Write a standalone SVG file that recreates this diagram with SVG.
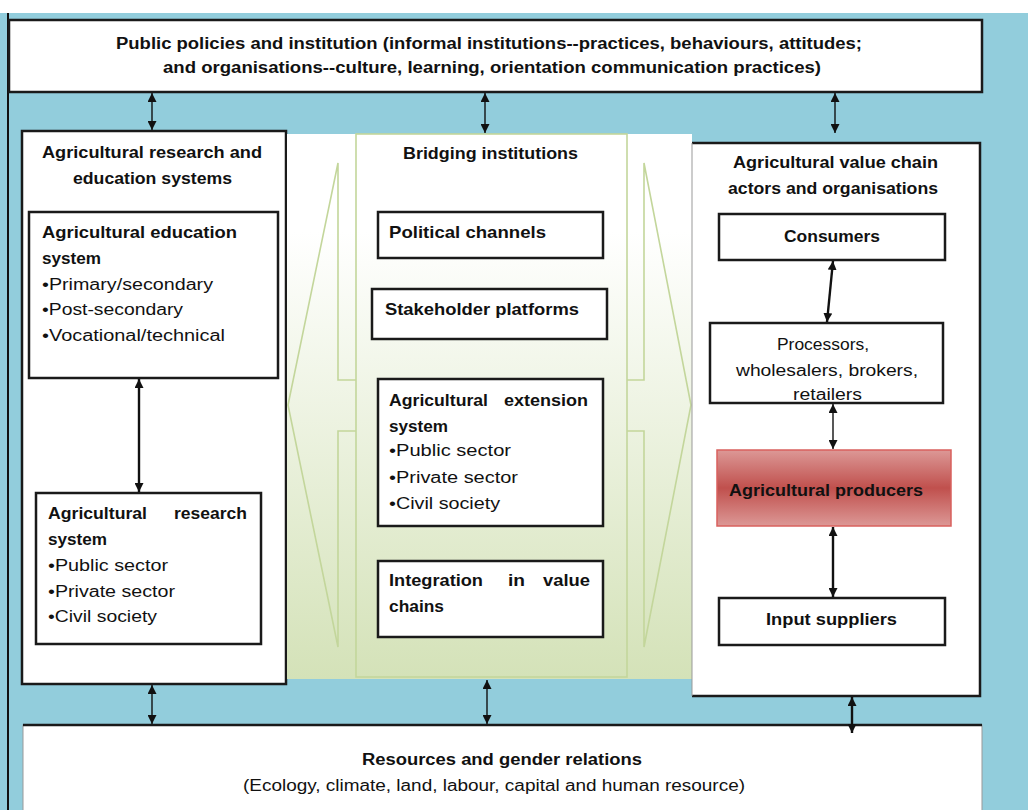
<svg xmlns="http://www.w3.org/2000/svg" width="1028" height="810" viewBox="0 0 1028 810">
<defs>
<style>
.t{font-family:"Liberation Sans",Arial,sans-serif;font-size:16px;fill:#111}
.b{font-weight:bold;font-size:17px}
.h{font-weight:bold;font-size:16px}
.box{fill:#fff;stroke:#1a1a1a;stroke-width:2.5}
.g{fill:none;stroke:#C3D69B;stroke-width:1.6}
.a1{stroke:#111;stroke-width:1.4;fill:none;marker-start:url(#ah);marker-end:url(#ah)}
.a2{stroke:#111;stroke-width:2.4;fill:none;marker-start:url(#ah);marker-end:url(#ah)}
</style>
<marker id="ah" viewBox="0 0 10 10" refX="10" refY="5" markerWidth="9" markerHeight="9" markerUnits="userSpaceOnUse" orient="auto-start-reverse">
<path d="M0,0 L10,5 L0,10 z" fill="#111"/>
</marker>
<linearGradient id="gg" x1="0" y1="0" x2="0" y2="1">
<stop offset="0" stop-color="#FFFFFF"/>
<stop offset="0.18" stop-color="#FFFFFF"/>
<stop offset="1" stop-color="#D4E2B8"/>
</linearGradient>
<linearGradient id="rg" x1="0" y1="0" x2="0" y2="1">
<stop offset="0" stop-color="#DC9896"/>
<stop offset="0.5" stop-color="#C0504D"/>
<stop offset="1" stop-color="#DC9896"/>
</linearGradient>
</defs>
<rect x="0" y="0" width="1028" height="810" fill="#fff"/>
<rect x="0" y="13" width="1028" height="797" fill="#92CDDC"/>
<line x1="8" y1="13" x2="8" y2="810" stroke="#111" stroke-width="2"/>

<g id="top">
<rect class="box" x="9" y="20" width="973" height="72"/>
<text class="t h" x="116" y="49" textLength="746" lengthAdjust="spacingAndGlyphs">Public policies and institution (informal institutions--practices, behaviours, attitudes;</text>
<text class="t h" x="163" y="73" textLength="658" lengthAdjust="spacingAndGlyphs">and organisations--culture, learning, orientation communication practices)</text>
</g>

<g id="left-column">
<rect class="box" x="22" y="131" width="264" height="553"/>
<text class="t b" x="42" y="158" textLength="220" lengthAdjust="spacingAndGlyphs">Agricultural research and</text>
<text class="t b" x="73" y="184" textLength="159" lengthAdjust="spacingAndGlyphs">education systems</text>
</g>

<g id="education-system">
<rect class="box" x="29" y="212" width="249" height="166"/>
<text class="t b" x="42" y="238" textLength="195" lengthAdjust="spacingAndGlyphs">Agricultural education</text>
<text class="t b" x="42" y="264" textLength="59" lengthAdjust="spacingAndGlyphs">system</text>
<text class="t" x="42" y="290" textLength="171" lengthAdjust="spacingAndGlyphs">•Primary/secondary</text>
<text class="t" x="42" y="315" textLength="141" lengthAdjust="spacingAndGlyphs">•Post-secondary</text>
<text class="t" x="42" y="341" textLength="183" lengthAdjust="spacingAndGlyphs">•Vocational/technical</text>
</g>

<g id="research-system">
<rect class="box" x="36" y="493" width="225" height="151"/>
<text class="t b" x="48" y="519" textLength="99" lengthAdjust="spacingAndGlyphs">Agricultural</text>
<text class="t b" x="174" y="519" textLength="73" lengthAdjust="spacingAndGlyphs">research</text>
<text class="t b" x="48" y="545" textLength="59" lengthAdjust="spacingAndGlyphs">system</text>
<text class="t" x="48" y="571" textLength="120" lengthAdjust="spacingAndGlyphs">•Public sector</text>
<text class="t" x="48" y="597" textLength="127" lengthAdjust="spacingAndGlyphs">•Private sector</text>
<text class="t" x="48" y="622" textLength="109" lengthAdjust="spacingAndGlyphs">•Civil society</text>
</g>

<g id="bridging">
<rect x="287" y="134" width="405" height="545" fill="url(#gg)"/>
<rect class="g" x="356" y="134" width="271" height="543"/>
<path class="g" d="M356,380 L338,380 L338,163 L288,405 L338,647 L338,431 L356,431"/>
<path class="g" d="M627,380 L644,380 L644,163 L691,405 L644,647 L644,431 L627,431"/>
<text class="t b" x="403" y="159" textLength="175" lengthAdjust="spacingAndGlyphs">Bridging institutions</text>
</g>

<g id="political-channels">
<rect class="box" x="378" y="212" width="225" height="46"/>
<text class="t b" x="389" y="238" textLength="157" lengthAdjust="spacingAndGlyphs">Political channels</text>
</g>

<g id="stakeholder-platforms">
<rect class="box" x="372" y="289" width="235" height="50"/>
<text class="t b" x="385" y="315" textLength="194" lengthAdjust="spacingAndGlyphs">Stakeholder platforms</text>
</g>

<g id="extension-system">
<rect class="box" x="378" y="379" width="225" height="147"/>
<text class="t b" x="389" y="406" textLength="99" lengthAdjust="spacingAndGlyphs">Agricultural</text>
<text class="t b" x="504" y="406" textLength="84" lengthAdjust="spacingAndGlyphs">extension</text>
<text class="t b" x="389" y="432" textLength="59" lengthAdjust="spacingAndGlyphs">system</text>
<text class="t" x="389" y="456" textLength="122" lengthAdjust="spacingAndGlyphs">•Public sector</text>
<text class="t" x="389" y="483" textLength="129" lengthAdjust="spacingAndGlyphs">•Private sector</text>
<text class="t" x="389" y="509" textLength="111" lengthAdjust="spacingAndGlyphs">•Civil society</text>
</g>

<g id="integration">
<rect class="box" x="378" y="561" width="225" height="76"/>
<text class="t b" x="389" y="586" textLength="94" lengthAdjust="spacingAndGlyphs">Integration</text>
<text class="t b" x="508" y="586" textLength="17" lengthAdjust="spacingAndGlyphs">in</text>
<text class="t b" x="543" y="586" textLength="47" lengthAdjust="spacingAndGlyphs">value</text>
<text class="t b" x="389" y="612" textLength="55" lengthAdjust="spacingAndGlyphs">chains</text>
</g>

<g id="right-column">
<rect x="692" y="143" width="288" height="553" fill="#fff"/>
<path d="M692,143 L980,143 L980,696 L692,696" fill="none" stroke="#1a1a1a" stroke-width="2.5"/>
<line x1="692" y1="143" x2="692" y2="696" stroke="#999" stroke-width="1"/>
<text class="t b" x="733" y="168" textLength="205" lengthAdjust="spacingAndGlyphs">Agricultural value chain</text>
<text class="t b" x="728" y="194" textLength="210" lengthAdjust="spacingAndGlyphs">actors and organisations</text>
</g>

<g id="consumers">
<rect class="box" x="719" y="214" width="226" height="46"/>
<text class="t b" x="784" y="242" textLength="96" lengthAdjust="spacingAndGlyphs">Consumers</text>
</g>

<g id="processors">
<rect class="box" x="710" y="323" width="233" height="80"/>
<text class="t" x="777" y="350" textLength="92" lengthAdjust="spacingAndGlyphs">Processors,</text>
<text class="t" x="736" y="376" textLength="182" lengthAdjust="spacingAndGlyphs">wholesalers, brokers,</text>
<text class="t" x="793" y="400" textLength="69" lengthAdjust="spacingAndGlyphs">retailers</text>
</g>

<g id="producers">
<rect x="717" y="450" width="234" height="76" fill="url(#rg)" stroke="#D9605D" stroke-width="1.5"/>
<text class="t b" x="729" y="496" textLength="194" lengthAdjust="spacingAndGlyphs">Agricultural producers</text>
</g>

<g id="input-suppliers">
<rect class="box" x="719" y="598" width="226" height="47"/>
<text class="t b" x="766" y="625" textLength="131" lengthAdjust="spacingAndGlyphs">Input suppliers</text>
</g>

<g id="resources">
<rect x="23" y="725" width="959" height="90" fill="#fff" stroke="#999" stroke-width="1"/>
<line x1="23" y1="725" x2="982" y2="725" stroke="#1a1a1a" stroke-width="2.5"/>
<text class="t h" x="362" y="765" textLength="280" lengthAdjust="spacingAndGlyphs">Resources and gender relations</text>
<text class="t" x="243" y="791" textLength="502" lengthAdjust="spacingAndGlyphs">(Ecology, climate, land, labour, capital and human resource)</text>
</g>

<g id="connectors">
<line class="a1" x1="152" y1="93" x2="152" y2="130"/>
<line class="a1" x1="485" y1="93" x2="485" y2="133"/>
<line class="a1" x1="835" y1="93" x2="835" y2="133"/>
<line class="a2" x1="139" y1="379" x2="139" y2="492"/>
<line class="a2" x1="833" y1="261" x2="827" y2="322"/>
<line class="a1" x1="833" y1="404" x2="833" y2="449"/>
<line class="a2" x1="833" y1="527" x2="833" y2="597"/>
<line class="a1" x1="152" y1="685" x2="152" y2="724"/>
<line class="a1" x1="487" y1="680" x2="487" y2="724"/>
<line class="a2" x1="852" y1="697" x2="852" y2="733"/>
</g>
</svg>
